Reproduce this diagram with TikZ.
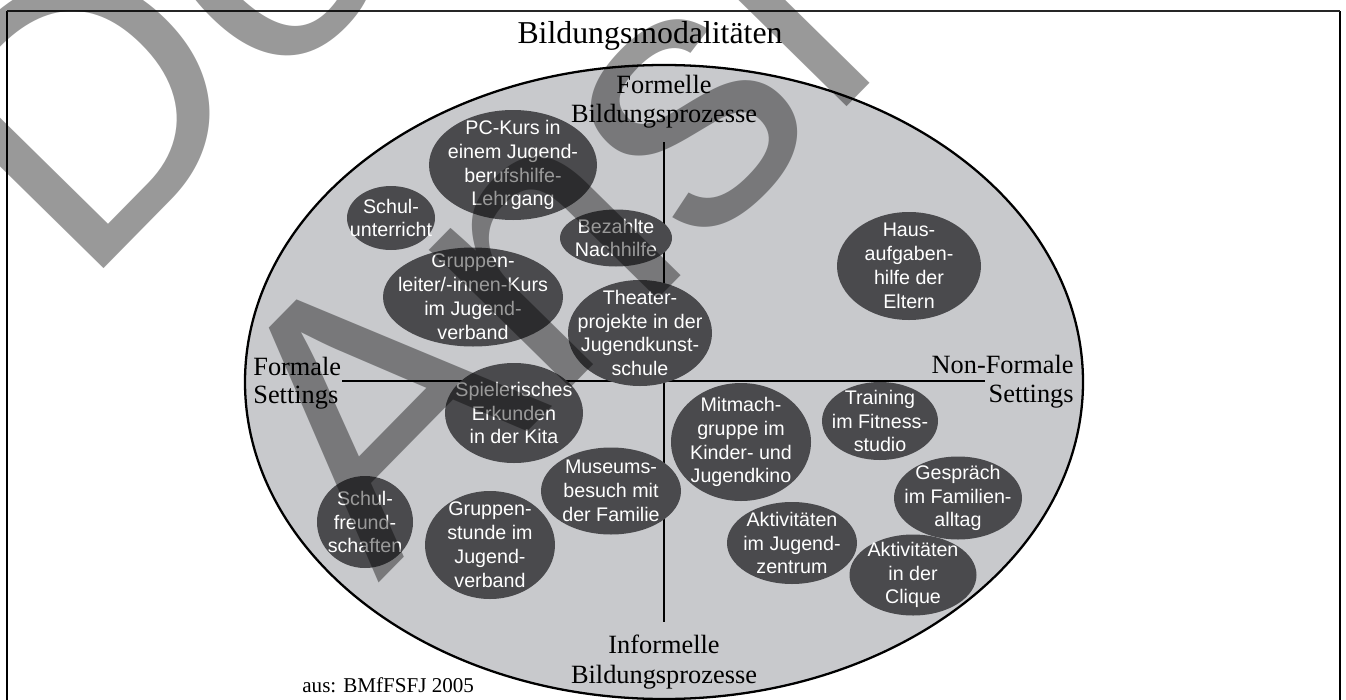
\documentclass[tikz,border=0pt]{standalone}
\usepackage{fontspec}
\setmainfont{Liberation Serif}
\setsansfont{Liberation Sans}
\usetikzlibrary{shapes.geometric,positioning}
\newlength{\pxu}\setlength{\pxu}{0.02cm}
\definecolor{ovalgray}{RGB}{200,201,204}
\definecolor{bubblegray}{RGB}{74,74,77}
\tikzset{
  oval/.style={ellipse, draw=black, line width=1.3pt, fill=ovalgray, inner sep=0pt},
  bubble/.style={ellipse, fill=bubblegray, inner sep=0pt},
  bubbletext/.style={text=white, align=center, inner sep=0pt,
    font=\sffamily\fontsize{11.2}{13.6}\selectfont},
  axislabel/.style={inner sep=0pt, font=\fontsize{15}{17}\selectfont},
  axisline/.style={line width=0.7pt},
  watermark/.style={inner sep=0pt, rotate=45.5, anchor=base west, text=black,
    text opacity=0.4, font=\sffamily\fontsize{212.6}{212.6}\selectfont}
}
\begin{document}
\begin{tikzpicture}[x=\pxu,y=-\pxu]
\useasboundingbox (0,0) rectangle (1346,700);
\draw[line width=0.8pt] (7,700)--(7,11)(1340,11)--(1340,700); % frame sides
\draw[line width=1.6pt,black!85] (7,11)--(1340,11); % frame top
\node[inner sep=0pt,anchor=base,font=\fontsize{18.1}{20}\selectfont] (title) at (650,43) {Bildungsmodalit\"aten}; % title
\node[oval,minimum width=838\pxu,minimum height=634\pxu] (modal) at (664,382) {}; % big ellipse
% axes
\coordinate (vtop) at (664,142);
\coordinate (vbot) at (664,622);
\coordinate (hleft) at (342,381);
\coordinate (hright) at (985,381);
\draw[axisline] (vtop)--(vbot); % vertical axis
\draw[axisline] (hleft)--(hright); % horizontal axis
% axis labels
\node[axislabel,anchor=base] (formell1) at (664,93) {Formelle};
\node[axislabel,anchor=base] (formell2) at (664,122) {Bildungsprozesse};
\node[axislabel,anchor=base] (informell1) at (664,653) {Informelle};
\node[axislabel,anchor=base] (informell2) at (664,683) {Bildungsprozesse};
\node[axislabel,anchor=base west] (formal1) at (253,375) {Formale};
\node[axislabel,anchor=base west] (formal2) at (253,403) {Settings};
\node[axislabel,anchor=base east] (nonformal1) at (1074,373) {Non-Formale};
\node[axislabel,anchor=base east] (nonformal2) at (1074,402) {Settings};
% bubbles
\node[bubble,minimum width=168\pxu,minimum height=110\pxu] (pckurs) at (513,165) {};
\node[bubbletext] (pckurs-t) at (pckurs) {PC-Kurs in\\einem Jugend-\\berufshilfe-\\Lehrgang};
\node[bubble,minimum width=88\pxu,minimum height=64\pxu] (schule) at (391,218) {};
\node[bubbletext] (schule-t) at (schule) {Schul-\\unterricht};
\node[bubble,minimum width=112\pxu,minimum height=57\pxu] (nachhilfe) at (616,238) {};
\node[bubbletext] (nachhilfe-t) at (nachhilfe) {Bezahlte\\Nachhilfe};
\node[bubble,minimum width=180\pxu,minimum height=99\pxu] (leiter) at (473,297) {};
\node[bubbletext] (leiter-t) at (leiter) {Gruppen-\\leiter/-innen-Kurs\\im Jugend-\\verband};
\node[bubble,minimum width=144\pxu,minimum height=106\pxu] (theater) at (640,333) {};
\node[bubbletext] (theater-t) at (theater) {Theater-\\projekte in der\\Jugendkunst-\\schule};
\node[bubble,minimum width=144\pxu,minimum height=108\pxu] (haus) at (909,266) {};
\node[bubbletext] (haus-t) at (haus) {Haus-\\aufgaben-\\hilfe der\\Eltern};
\node[bubble,minimum width=138\pxu,minimum height=100\pxu] (kita) at (514,413) {};
\node[bubbletext] (kita-t) at (kita) {Spielerisches\\Erkunden\\in der Kita};
\node[bubble,minimum width=140\pxu,minimum height=87\pxu] (museum) at (611,491) {};
\node[bubbletext] (museum-t) at (museum) {Museums-\\besuch mit\\der Familie};
\node[bubble,minimum width=96\pxu,minimum height=92\pxu] (freund) at (365,522) {};
\node[bubbletext] (freund-t) at (freund) {Schul-\\freund-\\schaften};
\node[bubble,minimum width=130\pxu,minimum height=108\pxu] (stunde) at (490,545) {};
\node[bubbletext] (stunde-t) at (stunde) {Gruppen-\\stunde im\\Jugend-\\verband};
\node[bubble,minimum width=140\pxu,minimum height=118\pxu] (kino) at (741,442) {};
\node[bubbletext] (kino-t) at (kino) {Mitmach-\\gruppe im\\Kinder- und\\Jugendkino};
\node[bubble,minimum width=116\pxu,minimum height=78\pxu] (fitness) at (880,421) {};
\node[bubbletext] (fitness-t) at (fitness) {Training\\im Fitness-\\studio};
\node[bubble,minimum width=128\pxu,minimum height=83\pxu] (alltag) at (958,498) {};
\node[bubbletext] (alltag-t) at (alltag) {Gespr\"ach\\im Familien-\\alltag};
\node[bubble,minimum width=130\pxu,minimum height=82\pxu] (zentrum) at (792,543) {};
\node[bubbletext] (zentrum-t) at (zentrum) {Aktivit\"aten\\im Jugend-\\zentrum};
\node[bubble,minimum width=127\pxu,minimum height=81\pxu] (clique) at (913,575) {};
\node[bubbletext] (clique-t) at (clique) {Aktivit\"aten\\in der\\Clique};
% source
\node[inner sep=0pt,anchor=base west,font=\fontsize{12}{14}\selectfont] (source) at (302,692) {aus: BMfFSFJ 2005};
% watermark
\node[watermark] (wm1) at (82,291) {Do};
\node[watermark] (wm2) at (378,584) {Ansi};
\end{tikzpicture}
\end{document}
